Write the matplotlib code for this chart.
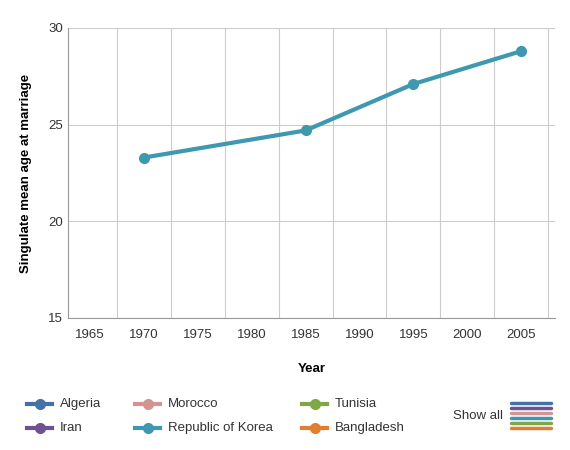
import matplotlib
matplotlib.use("Agg")
import matplotlib.pyplot as plt
from matplotlib.lines import Line2D

plt.rcParams['font.family'] = ['Liberation Sans', 'DejaVu Sans']

years = [1970, 1985, 1995, 2005]
korea = [23.3, 24.7, 27.1, 28.8]
tick_years = [1965, 1970, 1975, 1980, 1985, 1990, 1995, 2000, 2005]
legend_names = ["Algeria", "Iran", "Morocco", "Republic of Korea", "Tunisia", "Bangladesh"]
legend_colors = ["#4472a8", "#6f518f", "#d39594", "#3e98b0", "#80a746", "#e07f33"]

fig = plt.figure(figsize=(5.7, 4.5), dpi=100)
ax = fig.add_axes([68/570, 1-318/450, (555-68)/570, (318-28)/450])
ax.plot(years, korea, color="#3e98b0", lw=3, marker="o", ms=7, zorder=3)
ax.set_xlim(1962.94, 2008.16)
ax.set_ylim(15, 30)
ax.set_xticks(tick_years)
ax.set_xticks([1967.5 + 5*i for i in range(9)], minor=True)
ax.set_yticks([15, 20, 25, 30])
ax.grid(True, which="minor", axis="x", color="#cccccc", lw=0.8)
ax.grid(True, which="major", axis="y", color="#cccccc", lw=0.8)
ax.tick_params(which="both", length=0, labelsize=9.5, colors="#333333")
ax.tick_params(axis="x", pad=8)
for s in ["top", "right"]:
    ax.spines[s].set_visible(False)
for s in ["left", "bottom"]:
    ax.spines[s].set_color("#999999")
ax.set_xlabel("Year", fontsize=9.5, fontweight="bold", labelpad=16)
ax.set_ylabel("Singulate mean age at marriage", fontsize=9.5, fontweight="bold", labelpad=12)

xs = [30, 30, 138, 138, 305, 305]
ys = [404, 428, 404, 428, 404, 428]
for n, c, x, y in zip(legend_names, legend_colors, xs, ys):
    fy = 1 - y/450
    fig.add_artist(Line2D([(x-3)/570, (x+22)/570], [fy, fy], color=c, lw=3))
    fig.add_artist(Line2D([(x+10)/570], [fy], color=c, marker="o", ms=7))
    fig.text((x+30)/570, fy, n, fontsize=9.5, va="center", color="#333333")
fig.text(453/570, 1-416/450, "Show all", fontsize=9.5, va="center", color="#333333")
for i, c in enumerate(legend_colors):
    fy = 1 - (403 + i*5)/450
    fig.add_artist(Line2D([511/570, 551/570], [fy, fy], color=c, lw=2.5, solid_capstyle="round"))
fig.savefig("out.png", dpi=100)
